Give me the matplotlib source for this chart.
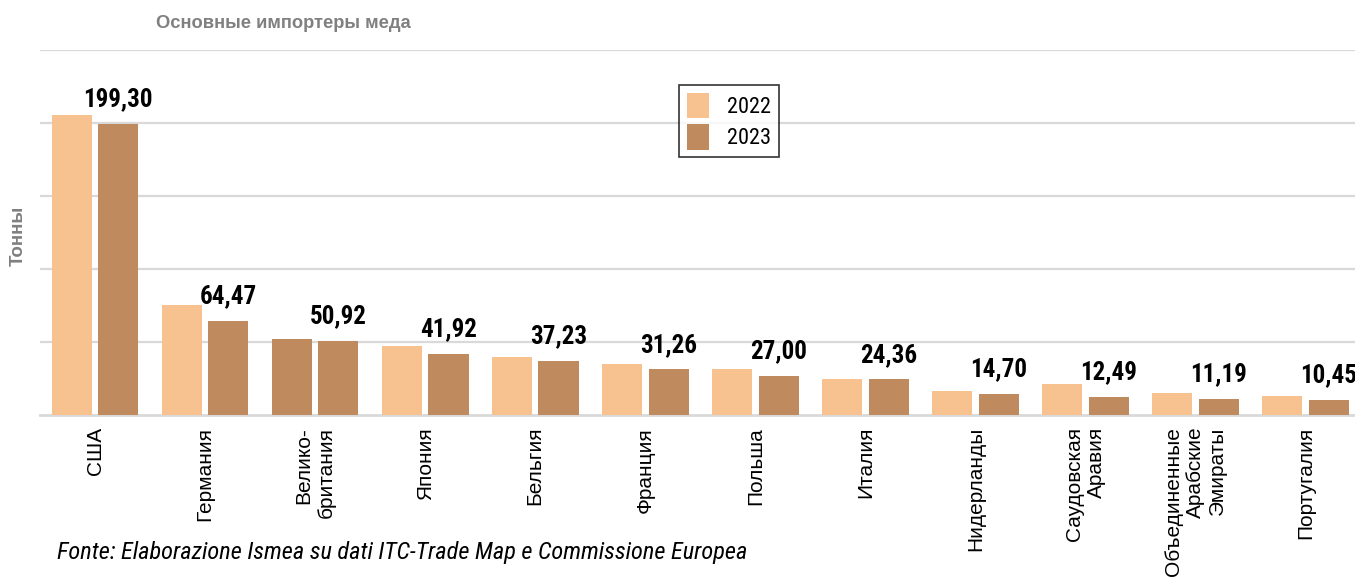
import matplotlib.pyplot as plt
import numpy as np

# Dati (tonnellate)
countries = ['США', 'Германия', 'Велико-\nбритания', 'Япония', 'Бельгия', 'Франция',
             'Польша', 'Италия', 'Нидерланды', 'Саудовская\nАравия',
             'Объединенные\nАрабские\nЭмираты', 'Португалия']
v2022 = [205.2, 75.4, 52.2, 47.4, 39.9, 35.1, 31.7, 24.8, 16.6, 21.4, 15.3, 13.2]
v2023 = [199.30, 64.47, 50.92, 41.92, 37.23, 31.26, 27.00, 24.36, 14.70, 12.49, 11.19, 10.45]
labels_2023 = ['199,30', '64,47', '50,92', '41,92', '37,23', '31,26', '27,00',
               '24,36', '14,70', '12,49', '11,19', '10,45']

c22 = '#F8C290'
c23 = '#BE8A5E'
narrow = ['Roboto Condensed', 'DejaVu Sans']
arial = ['Liberation Sans', 'DejaVu Sans']

fig = plt.figure(figsize=(13.55, 5.85), dpi=100)
ax = fig.add_axes([40 / 1355, 1 - 415 / 585, 1 - 40 / 1355, (415 - 50) / 585])

x = np.arange(len(countries))
w = 0.364
cols22 = [c22] * len(countries)
cols22[2] = c23  # nel grafico originale la barra UK 2022 ha il colore scuro
ax.bar(x - 0.212, v2022, w, color=cols22, label='2022', zorder=3)
ax.bar(x + 0.212, v2023, w, color=c23, label='2023', zorder=3)

for xi, v, t in zip(x, v2023, labels_2023):
    ax.annotate(t, (xi + 0.212, v), xytext=(0, 9), textcoords='offset points',
                ha='center', va='bottom', fontsize=18, fontweight='bold',
                family=narrow)

ax.set_xlim(-0.5, 11.45)
ax.set_ylim(0, 250)
ax.set_yticks([50, 100, 150, 200, 250])
ax.yaxis.grid(True, color='#D9D9D9', lw=1.6, zorder=0)
ax.tick_params(left=False, bottom=False, labelleft=False)
for s in ['top', 'right', 'left']:
    ax.spines[s].set_visible(False)
ax.spines['bottom'].set_color('#D9D9D9')
ax.spines['bottom'].set_linewidth(2)

ax.set_xticks(x)
ax.set_xticklabels(countries, rotation=90, fontsize=15, family=arial,
                   va='top', ha='center', multialignment='right')
ax.tick_params(axis='x', pad=5)

leg = ax.legend(loc='upper left', bbox_to_anchor=(639 / 1315, 1 - 35 / 365),
                borderaxespad=0, frameon=True, fancybox=False, edgecolor='black',
                prop={'family': narrow, 'size': 16}, handlelength=1.0,
                handleheight=1.4, handletextpad=0.8, borderpad=0.35,
                labelspacing=0.25)
leg.get_frame().set_linewidth(1.2)

fig.text(283 / 1355, 1 - 24 / 585, 'Основные импортеры меда', ha='center', va='center',
         fontsize=13.2, fontweight='bold', color='#808080', family=arial)
fig.text(18 / 1355, 1 - 236 / 585, 'Тонны', rotation=90, ha='center', va='center',
         fontsize=13.5, fontweight='bold', color='#808080', family=arial)
fig.text(57 / 1355, 1 - 552 / 585,
         'Fonte: Elaborazione Ismea su dati ITC-Trade Map e Commissione Europea',
         ha='left', va='center', fontsize=17.6, style='italic', family=narrow)

fig.savefig('out.png', dpi=100)
